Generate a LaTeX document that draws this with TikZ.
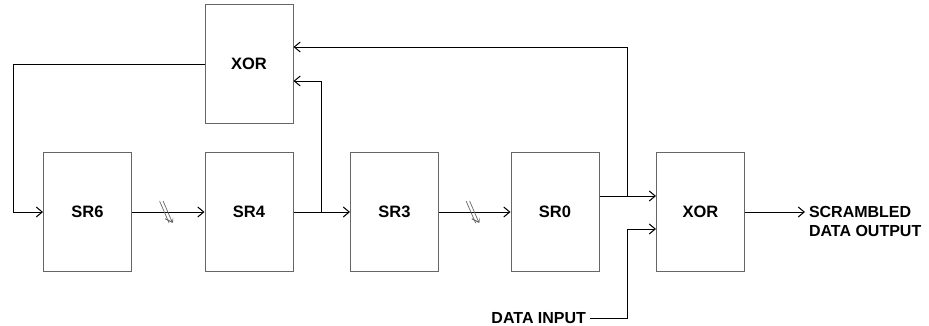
\documentclass[tikz,border=0pt]{standalone}
\usepackage{fontspec}
\setmainfont{Liberation Sans}
\usepackage{tikz}
\usetikzlibrary{arrows.meta}
\usetikzlibrary{positioning}
\tikzstyle{block}=[draw=black!60, line width=1pt, minimum width=88pt, minimum height=119pt, inner sep=0pt, font=\fontsize{16.5}{19}\selectfont\bfseries]
\tikzstyle{label_text}=[inner sep=0pt, outer sep=4pt, align=left, font=\fontsize{16}{19.3}\selectfont\bfseries]
\tikzset{bus_break/.style={
    minimum width=14pt, minimum height=26pt, inner sep=0pt,
    path picture={
        \draw[black!60, line width=0.7pt]
        ([xshift=-6.5pt,yshift=11pt]path picture bounding box.center) --
        ([xshift=3pt,yshift=-11pt]path picture bounding box.center)
        ([xshift=-3pt,yshift=11pt]path picture bounding box.center) --
        ([xshift=6.5pt,yshift=-11pt]path picture bounding box.center);
    }
}}
\tikzstyle{wire}=[line width=0.8pt, -{Straight Barb[length=6pt,width=10pt,line width=1pt]}]

\begin{document}
\begin{tikzpicture}[x=1pt, y=-1pt]
\useasboundingbox (0,0) rectangle (929,326);
\node[block] (xor0) at (249,64){XOR};
\node[block] (sr6) at (87.5,212){SR6};
\node[block] (sr4) at (249,212){SR4};
\node[block] (sr3) at (394.5,212){SR3};
\node[block] (sr0) at (555,212){SR0};
\node[block] (xor1) at (700.5,212){XOR};
\node[label_text, anchor=east] (din) at (590,318){DATA INPUT};
\node[label_text, anchor=west] (dout) at (805,221.5){SCRAMBLED\\DATA OUTPUT};
\coordinate (fb) at (13,64);
\coordinate (tap0) at (321,212);
\coordinate (tap1) at (627,196);
\coordinate (dcor) at (627,318);
\draw[wire](xor0.west) -- (fb) |- (sr6.west);
\draw[wire](sr6.east) -- (sr4.west) node[pos=0.47, bus_break]{};
\draw[wire](sr4.east) -- (sr3.west);
\draw[wire](sr3.east) -- (sr0.west) node[pos=0.47, bus_break]{};
\draw[wire](tap0) |- ([yshift=-17pt]xor0.east);
\draw[wire]([yshift=16pt]sr0.east) -- ([yshift=16pt]xor1.west);
\draw[wire](tap1) |- ([yshift=17pt]xor0.east);
\draw[wire](din.east) -- (dcor) |- ([yshift=-17pt]xor1.west);
\draw[wire](xor1.east) -- (dout.west |- xor1.east);
\end{tikzpicture}
\end{document}
